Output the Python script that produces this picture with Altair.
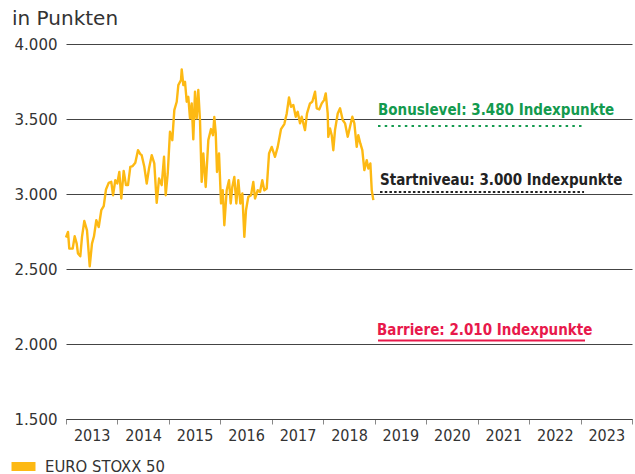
import altair as alt
import pandas as pd

# EURO STOXX 50, decimal year and index points
years = [2013.00, 2013.039, 2013.064, 2013.130, 2013.169, 2013.208, 2013.233, 2013.278, 2013.311, 2013.356,
         2013.408, 2013.461, 2013.505, 2013.544, 2013.589, 2013.636, 2013.686, 2013.733, 2013.777, 2013.830,
         2013.880, 2013.914, 2013.958, 2013.997, 2014.036, 2014.075, 2014.121, 2014.166, 2014.205, 2014.250,
         2014.296, 2014.347, 2014.399, 2014.444, 2014.471, 2014.522, 2014.569, 2014.613, 2014.666, 2014.716,
         2014.763, 2014.808, 2014.860, 2014.905, 2014.938, 2014.977, 2015.021, 2015.066, 2015.105, 2015.152,
         2015.183, 2015.235, 2015.249, 2015.280, 2015.313, 2015.346, 2015.377, 2015.410, 2015.443, 2015.474,
         2015.507, 2015.540, 2015.571, 2015.604, 2015.637, 2015.669, 2015.715, 2015.766, 2015.818, 2015.857,
         2015.882, 2015.910, 2015.935, 2015.974, 2016.013, 2016.046, 2016.077, 2016.123, 2016.168, 2016.201,
         2016.232, 2016.271, 2016.310, 2016.349, 2016.388, 2016.427, 2016.466, 2016.498, 2016.543, 2016.596,
         2016.640, 2016.673, 2016.726, 2016.771, 2016.815, 2016.854, 2016.901, 2016.946, 2016.998, 2017.062,
         2017.115, 2017.179, 2017.243, 2017.290, 2017.334, 2017.373, 2017.418, 2017.465, 2017.503, 2017.548,
         2017.581, 2017.645, 2017.684, 2017.742, 2017.787, 2017.840, 2017.873, 2017.923, 2017.970, 2018.015,
         2018.048, 2018.086, 2018.098, 2018.131, 2018.164, 2018.195, 2018.228, 2018.281, 2018.326, 2018.378,
         2018.423, 2018.475, 2018.520, 2018.565, 2018.604, 2018.650, 2018.681, 2018.720, 2018.759, 2018.798,
         2018.845, 2018.876, 2018.915, 2018.942, 2018.973]
values = [2710, 2747, 2636, 2636, 2718, 2669, 2603, 2585, 2714, 2820,
          2758, 2518, 2669, 2718, 2825, 2780, 2892, 2919, 3030, 3074,
          3081, 2992, 3092, 3070, 3147, 2970, 3154, 3059, 3059, 3181,
          3186, 3208, 3292, 3266, 3259, 3181, 3070, 3170, 3259, 3204,
          2941, 3103, 3059, 3248, 2992, 3137, 3415, 3359, 3559, 3615,
          3726, 3760, 3831, 3726, 3748, 3615, 3648, 3504, 3604, 3364,
          3682, 3504, 3693, 3493, 3081, 3270, 3047, 3359, 3433, 3392,
          3513, 3406, 3147, 3270, 2937, 3025, 2792, 3025, 3092, 2937,
          3047, 3114, 2937, 3092, 2937, 3003, 2714, 2892, 2981, 2992,
          3081, 2970, 3025, 3014, 3092, 3025, 3037, 3270, 3314, 3248,
          3314, 3433, 3466, 3537, 3644, 3581, 3593, 3515, 3548, 3471,
          3515, 3426, 3537, 3604, 3615, 3682, 3571, 3564, 3604, 3626,
          3671, 3537, 3381, 3437, 3392, 3292, 3426, 3537, 3571, 3493,
          3471, 3381, 3448, 3515, 3471, 3314, 3392, 3337, 3292, 3159,
          3226, 3170, 3204, 3025, 2959]
series_name = "EURO STOXX 50"

level_values = [3480, 3000, 2010]
level_texts = ["Bonuslevel: 3.480 Indexpunkte", "Startniveau: 3.000 Indexpunkte", "Barriere: 2.010 Indexpunkte"]
year_ticks = list(range(2013, 2025))
y_ticks = [1500, 2000, 2500, 3000, 3500, 4000]
subtitle = "in Punkten"

GREEN = "#139a4e"
BLACK = "#222222"
RED = "#e8194b"
GOLD = "#FDB913"

df = pd.DataFrame({"year": years, "value": values, "series": series_name})

x_scale = alt.Scale(domain=[2013, 2024], nice=False, zero=False)
y_scale = alt.Scale(domain=[1500, 4000], nice=False, zero=False)

line = alt.Chart(df).mark_line(strokeWidth=2.4, strokeJoin="round").encode(
    x=alt.X("year:Q", scale=x_scale, title=None,
            axis=alt.Axis(values=year_ticks, grid=False, tickSize=5, tickColor="#888888",
                          domainColor="#444444", labelOffset=25.7,
                          labelExpr="datum.value >= 2024 ? '' : '' + datum.value",
                          labelFont="DejaVu Sans Condensed", labelFontSize=16, labelColor="#333333",
                          labelPadding=3, labelFlush=False, labelOverlap=False)),
    y=alt.Y("value:Q", scale=y_scale, title=None,
            axis=alt.Axis(values=y_ticks, grid=True, gridColor="#444444", gridWidth=1,
                          domain=False, ticks=False, labelPadding=9,
                          labelExpr="replace(format(datum.value, ','), ',', '.')",
                          labelFont="DejaVu Sans", labelFontSize=15, labelColor="#333333")),
    color=alt.Color("series:N", scale=alt.Scale(range=[GOLD]),
                    legend=alt.Legend(title=None, orient="none", legendX=-59, legendY=406,
                                      symbolType="stroke", symbolSize=576, symbolStrokeWidth=9,
                                      labelFont="DejaVu Sans Condensed", labelFontSize=16.5,
                                      labelColor="#333333", labelOffset=5, padding=0)),
)

lv = pd.DataFrame({"value": level_values, "label": level_texts})

def rule(i, x0, x1, color, dash, yoff):
    kw = dict(color=color, strokeWidth=2, yOffset=yoff)
    if dash:
        kw["strokeDash"] = dash
    return alt.Chart(lv.iloc[[i]]).mark_rule(**kw).encode(
        x=alt.X("x0:Q", scale=x_scale), x2="x1:Q", y=alt.Y("value:Q", scale=y_scale)
    ).transform_calculate(x0=str(x0), x1=str(x1))

def label(i, x0, yval, color):
    return alt.Chart(lv.iloc[[i]]).mark_text(
        align="left", baseline="middle", font="DejaVu Sans Condensed", fontWeight="bold",
        fontSize=15, color=color
    ).encode(x=alt.X("xp:Q", scale=x_scale),
             y=alt.Y("yp:Q", scale=y_scale), text="label:N"
    ).transform_calculate(xp=str(x0), yp=str(yval))

r_bonus = rule(0, 2019.064, 2023.068, GREEN, [2.5, 4.2], 4)
r_start = rule(1, 2019.103, 2023.068, BLACK, [2.5, 2.2], -2)
r_barr = rule(2, 2019.064, 2023.087, RED, None, -2)
t_bonus = label(0, 2019.064, 3559, GREEN)
t_start = label(1, 2019.103, 3092, BLACK)
t_barr = label(2, 2019.045, 2091, RED)

title = alt.Chart(pd.DataFrame({"t": [subtitle]})).mark_text(
    align="left", baseline="alphabetic", font="DejaVu Sans", fontSize=20, color="#333333"
).encode(x=alt.value(-54), y=alt.value(-19), text="t:N")

chart = alt.layer(line, r_bonus, r_start, r_barr, t_bonus, t_start, t_barr, title).properties(
    width=566, height=375,
    autosize=alt.AutoSizeParams(type="none"),
    padding={"left": 66, "top": 44, "right": 3, "bottom": 55},
).configure_view(stroke=None)

chart.save("out.html", embed_options={"renderer": "svg", "actions": False})
